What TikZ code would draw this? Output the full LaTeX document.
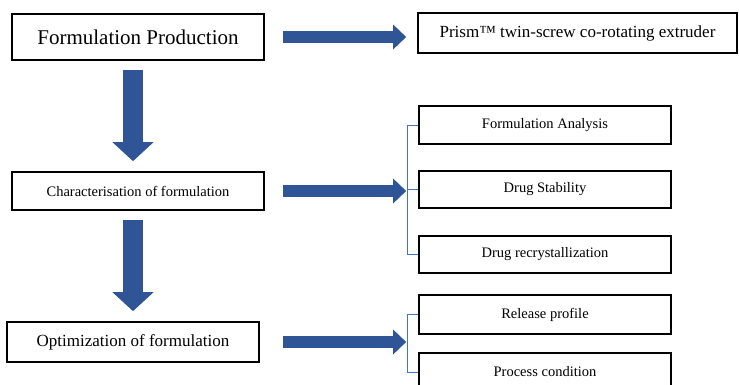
\documentclass[tikz,border=0pt]{standalone}
\usepackage{fontspec}
\setmainfont{Liberation Serif}
\usetikzlibrary{arrows.meta}
\definecolor{arrowblue}{RGB}{47,85,151}
\definecolor{linkblue}{RGB}{68,114,196}
\newcommand{\bigtxt}{\fontsize{21}{25}\selectfont}
\newcommand{\midtxt}{\fontsize{17}{20}\selectfont}
\newcommand{\smalltxt}{\fontsize{14.5}{17}\selectfont}

\begin{document}
\begin{tikzpicture}[x=1pt,y=1pt,
  box/.style={draw=black,line width=1.6pt,inner sep=0pt,minimum width=252pt},
  fatright/.style={arrowblue,line width=11.5pt,-{Triangle[width=24pt,length=13pt]}},
  fatdown/.style={arrowblue,line width=20pt,-{Triangle[width=40pt,length=19pt]}},
  bracket/.style={linkblue,line width=0.9pt}]
\clip (0,0) rectangle (739,-385);
\node[box,minimum height=46pt] (fp) at (138,-37) {\bigtxt Formulation Production};
\node[box,minimum width=319pt,minimum height=40pt] (prism) at (577.5,-33) {\midtxt Prism™ twin-screw co-rotating extruder};
\node[box,minimum height=38pt] (char) at (138,-191) {\smalltxt Characterisation of formulation};
\node[box,minimum height=40pt] (opt) at (133,-342) {\midtxt Optimization of formulation};
\node[box,minimum height=38pt] (fa) at (545,-125) {\smalltxt Formulation Analysis};
\node[box,minimum height=37pt] (ds) at (545,-189.5) {\smalltxt Drug Stability};
\node[box,minimum height=37pt] (dr) at (545,-254.5) {\smalltxt Drug recrystallization};
\node[box,minimum height=39pt] (rp) at (545,-314.5) {\smalltxt Release profile};
\node[box,minimum height=38pt] (pc) at (545,-372) {\smalltxt Process condition};
% big arrows
\draw[fatright,shorten <=18pt,shorten >=11pt] (fp.east) -- (fp.east -| prism.west);
\draw[fatright,shorten <=18pt,shorten >=12pt] (char.east) -- (char.east -| ds.west);
\draw[fatright,shorten <=23pt,shorten >=12pt] (opt.east) -- (opt.east -| rp.west);
\draw[fatdown,shorten <=9pt,shorten >=10pt] (fp.south -| opt.north) -- (char.north -| opt.north);
\draw[fatdown,shorten <=9pt,shorten >=10pt] (char.south -| opt.north) -- (opt.north);
% brackets
\draw[bracket] (fa.west) -- ++(-11,0) |- (dr.west);
\draw[bracket] (ds.west) -- ++(-11,0);
\draw[bracket] (rp.west) -- ++(-11,0) |- (pc.west);
\end{tikzpicture}
\end{document}
